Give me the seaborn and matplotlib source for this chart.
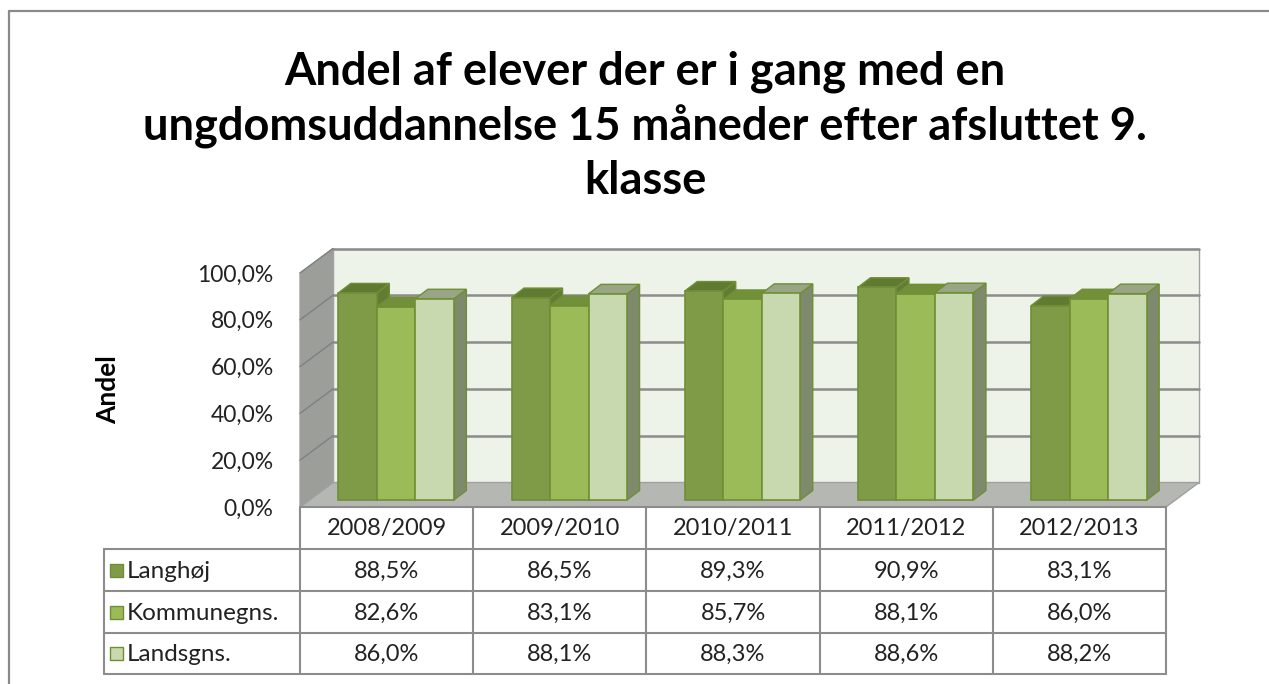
import pandas as pd
import matplotlib
matplotlib.use('Agg')
import matplotlib.pyplot as plt
import matplotlib.transforms as mtransforms
from matplotlib.patches import Polygon, Rectangle
from matplotlib.lines import Line2D
from matplotlib.ticker import FuncFormatter
import seaborn as sns

# data
years = ['2008/2009', '2009/2010', '2010/2011', '2011/2012', '2012/2013']
groups = ['Langhøj', 'Kommunegns.', 'Landsgns.']
langhoj = [88.5, 86.5, 89.3, 90.9, 83.1]
kommune = [82.6, 83.1, 85.7, 88.1, 86.0]
lands = [86.0, 88.1, 88.3, 88.6, 88.2]
yticks = [0, 20, 40, 60, 80, 100]

front_cols = ['#7f9b48', '#9bbb59', '#c8d8af']
top_cols = ['#607b31', '#72903a', '#9aa585']
side_cols = ['#627c34', '#7c9844', '#7f8a6c']
edge_col = '#6f8f35'
grid_col = '#8c8c8c'

W, H = 1269, 684
sns.set_theme(style='white')
plt.rcParams['font.family'] = ['Lato', 'DejaVu Sans']


def fy(py):
    return (H - py) / H


def fx(px):
    return px / W


def main():
    df = pd.DataFrame({
        'year': years * 3,
        'value': langhoj + kommune + lands,
        'group': [g for g in groups for _ in years],
    })

    fig = plt.figure(figsize=(W / 100, H / 100), dpi=100)
    fig.patch.set_facecolor('white')
    # outer chart frame
    fig.add_artist(Line2D([fx(9), 1], [fy(11), fy(11)], color='#8a8a8a', lw=1.6))
    fig.add_artist(Line2D([fx(9), fx(9)], [fy(11), 0], color='#8a8a8a', lw=1.6))

    ax = fig.add_axes([fx(300), fy(507), 866 / W, 234 / H])
    ax.set_xlim(-0.5, 4.5)
    ax.set_ylim(0, 100)
    ax.patch.set_visible(False)
    for s in ax.spines.values():
        s.set_visible(False)

    depth = (33, 24.5)
    back = ax.transData + mtransforms.Affine2D().translate(*depth)
    ident = mtransforms.IdentityTransform()

    # walls and floor
    ax.add_patch(Polygon([(-0.5, 0), (4.5, 0), (4.5, 100), (-0.5, 100)], closed=True,
                         transform=back, facecolor='#eef3e9', edgecolor='#a0a0a0',
                         lw=1, zorder=0, clip_on=False))
    fl = ax.transData.transform([(-0.5, 0), (4.5, 0)])
    floor = [fl[0], fl[1], fl[1] + depth, fl[0] + depth]
    ax.add_patch(Polygon(floor, closed=True, transform=ident, facecolor='#b5b7b3',
                         edgecolor='#a0a0a0', lw=1, zorder=0.5, clip_on=False))
    sw = ax.transData.transform([(-0.5, 0), (-0.5, 100)])
    side = [sw[0], sw[1], sw[1] + depth, sw[0] + depth]
    ax.add_patch(Polygon(side, closed=True, transform=ident, facecolor='#9c9e9a',
                         edgecolor='#a0a0a0', lw=1, zorder=0.5, clip_on=False))
    for t in yticks[1:]:
        ax.add_line(Line2D([-0.5, 4.5], [t, t], transform=back, color=grid_col,
                           lw=1.8, zorder=1, clip_on=False))
        p = ax.transData.transform((-0.5, t))
        ax.add_line(Line2D([p[0], p[0] + depth[0]], [p[1], p[1] + depth[1]],
                           transform=ident, color='#808080', lw=1, zorder=1,
                           clip_on=False))

    sns.barplot(data=df, x='year', y='value', hue='group', hue_order=groups,
                palette=front_cols, saturation=1, width=0.667, edgecolor=edge_col,
                linewidth=1.2, legend=False, ax=ax, zorder=3)
    ax.set_xlim(-0.5, 4.5)
    ax.set_ylim(0, 100)

    bar_off = (9.5, 7)
    bar_depth = (12.5, 9.5)
    shift = ax.transData + mtransforms.Affine2D().translate(*bar_off)
    bars = [p for p in ax.patches if isinstance(p, Rectangle)][:15]
    for k, p in enumerate(bars):
        g = k // len(years)
        p.set_transform(shift)
        p.set_clip_on(False)
        p.set_zorder(3 + g * 0.1 + 0.05)
        x0, w, h = p.get_x(), p.get_width(), p.get_height()
        bl, br, tr, tl = shift.transform([(x0, 0), (x0 + w, 0), (x0 + w, h), (x0, h)])
        top = [tl, tr, tr + bar_depth, tl + bar_depth]
        sidef = [br, tr, tr + bar_depth, br + bar_depth]
        ax.add_patch(Polygon(sidef, closed=True, transform=ident, facecolor=side_cols[g],
                             edgecolor=edge_col, lw=1, zorder=3 + g * 0.1, clip_on=False))
        ax.add_patch(Polygon(top, closed=True, transform=ident, facecolor=top_cols[g],
                             edgecolor=edge_col, lw=1, zorder=3 + g * 0.1, clip_on=False))

    ax.set_xticks([])
    ax.set_yticks(yticks)
    ax.yaxis.set_major_formatter(FuncFormatter(lambda v, _: f'{v:.1f}%'.replace('.', ',')))
    ax.tick_params(axis='y', length=0, pad=19, labelsize=16.5, labelcolor='#222222')
    ax.set_xlabel('')
    ax.set_ylabel('')
    fig.text(fx(108), fy(390), 'Andel', rotation=90, ha='center', va='center',
             fontsize=19, fontweight='bold', color='black')

    fig.text(fx(645), fy(126), 'Andel af elever der er i gang med en\n'
             'ungdomsuddannelse 15 måneder efter afsluttet 9.\nklasse',
             ha='center', va='center', fontsize=32.5, fontweight='bold',
             linespacing=1.33, color='black')

    # data table below the plot
    cols = ax.transData.transform([(i - 0.5, 0) for i in range(len(years) + 1)])[:, 0]
    rows = [507, 549, 591, 633, 674]
    left = 104
    lc = dict(color=grid_col, lw=1.5)
    fig.add_artist(Line2D([fx(cols[0]), fx(cols[-1])], [fy(rows[0])] * 2, **lc))
    for r in rows[1:]:
        fig.add_artist(Line2D([fx(left), fx(cols[-1])], [fy(r)] * 2, **lc))
    for c in cols:
        fig.add_artist(Line2D([c / W] * 2, [fy(rows[0]), fy(rows[-1])], **lc))
    fig.add_artist(Line2D([fx(left)] * 2, [fy(rows[1]), fy(rows[-1])], **lc))

    for i, yr in enumerate(years):
        cx = (cols[i] + cols[i + 1]) / 2
        fig.text(cx / W, fy((rows[0] + rows[1]) / 2 + 1), yr, ha='center', va='center',
                 fontsize=17, color='#222222')
    for g, (name, vals) in enumerate(zip(groups, [langhoj, kommune, lands])):
        cy = (rows[g + 1] + rows[g + 2]) / 2
        fig.add_artist(Rectangle((fx(110), fy(cy + 6.5)), 13 / W, 13 / H,
                                 facecolor=front_cols[g], edgecolor=edge_col, lw=1))
        fig.text(fx(127), fy(cy + 1), name, ha='left', va='center', fontsize=17.5,
                 color='#222222')
        for i, v in enumerate(vals):
            cx = (cols[i] + cols[i + 1]) / 2
            fig.text(cx / W, fy(cy + 1), f'{v:.1f}%'.replace('.', ','), ha='center',
                     va='center', fontsize=17, color='#222222')

    fig.savefig('out.png', dpi=100)


if __name__ == '__main__':
    main()
